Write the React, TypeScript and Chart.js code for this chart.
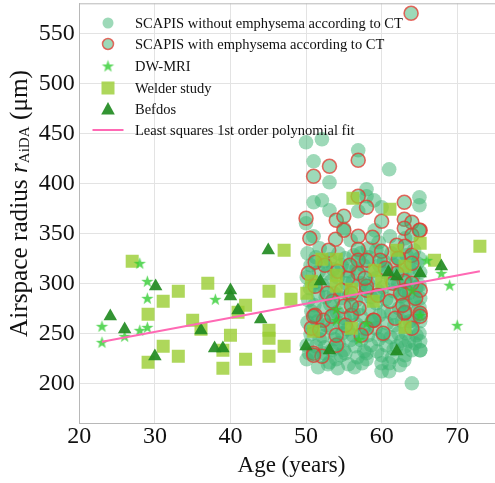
import React, { useEffect, useRef } from 'react';
import { Chart, registerables } from 'chart.js';

Chart.register(...registerables);

// ---- Data (age in years, airspace radius in µm) ----
const xTicks = [20, 30, 40, 50, 60, 70];
const yTicks = [200, 250, 300, 350, 400, 450, 500, 550];

const scapisNoEmph: [number, number][] = [
  [50.0, 441], [52.1, 444], [56.9, 433], [51.0, 422], [61.0, 414], [53.1, 401], [58.0, 394], [58.0, 387],
  [51.0, 381], [52.1, 383], [59.0, 383], [65.0, 386], [65.0, 378], [60.0, 376], [53.1, 373], [56.9, 372],
  [50.0, 360], [51.0, 347], [59.1, 353], [61.1, 347], [55.0, 355], [55.9, 343], [51.8, 335], [58.2, 335],
  [59.6, 341], [63.1, 345], [64.0, 200], [65.1, 233], [64.0, 233], [63.0, 223], [60.0, 228], [60.0, 220],
  [60.0, 212], [61.0, 220], [61.0, 212], [58.0, 224], [58.0, 230], [54.0, 224], [50.1, 224], [52.3, 230],
  [55.0, 233], [63.1, 237], [65.1, 233], [62.0, 237], [63.1, 228],
  [50.2, 330], [50.6, 318], [50.1, 306], [50.5, 295], [50.3, 283], [50.7, 272], [50.2, 261], [50.6, 249], [50.1, 238], [50.4, 230],
  [51.3, 326], [51.7, 312], [51.2, 301], [51.6, 289], [51.1, 278], [51.5, 262], [51.8, 244], [51.3, 237], [51.6, 216],
  [52.4, 322], [52.8, 310], [52.2, 298], [52.6, 286], [52.3, 274], [52.7, 258], [52.2, 247], [52.5, 236], [52.9, 219],
  [53.2, 324], [53.6, 314], [53.3, 302], [53.7, 290], [53.2, 279], [53.6, 268], [53.3, 255], [53.8, 244], [53.4, 233], [53.1, 221],
  [54.3, 330], [54.7, 318], [54.2, 306], [54.6, 285], [54.1, 271], [54.5, 260], [54.8, 250], [54.3, 240], [54.6, 228], [54.2, 215],
  [55.2, 325], [55.6, 312], [55.3, 300], [55.7, 288], [55.1, 265], [55.5, 254], [55.8, 243], [55.2, 230], [55.6, 219],
  [56.3, 328], [56.7, 315], [56.2, 302], [56.6, 283], [56.3, 270], [56.7, 259], [56.2, 248], [56.5, 237], [56.8, 226], [56.4, 216],
  [57.2, 330], [57.6, 318], [57.3, 300], [57.7, 287], [57.2, 268], [57.6, 255], [57.3, 243], [57.7, 232], [57.4, 220],
  [58.3, 326], [58.7, 312], [58.2, 300], [58.6, 286], [58.3, 274], [58.7, 262], [58.2, 248], [58.6, 238],
  [59.3, 333], [59.7, 318], [59.2, 305], [59.6, 292], [59.3, 280], [59.7, 268], [59.2, 255], [59.6, 244], [59.4, 232],
  [60.3, 322], [60.7, 310], [60.2, 296], [60.6, 284], [60.3, 272], [60.7, 260], [60.2, 248], [60.6, 238],
  [61.3, 330], [61.7, 318], [61.2, 305], [61.6, 292], [61.3, 270], [61.7, 258], [61.2, 246], [61.6, 234], [61.4, 226],
  [62.3, 325], [62.7, 313], [62.2, 299], [62.6, 287], [62.3, 275], [62.7, 262], [62.2, 250], [62.6, 242], [62.4, 218],
  [63.3, 328], [63.7, 315], [63.2, 303], [63.6, 290], [63.3, 280], [63.7, 262], [63.2, 250], [63.6, 242],
  [64.3, 333], [64.7, 320], [64.2, 308], [64.6, 296], [64.3, 284], [64.7, 272], [64.2, 262], [64.6, 248], [64.4, 240],
  [65.0, 325], [65.1, 311], [65.0, 298], [65.1, 285], [65.0, 276], [65.1, 262], [65.0, 250], [65.1, 242],
];

const scapisEmph: [number, number][] = [
  [63.9, 570], [56.9, 423], [53.1, 417], [51.0, 407], [56.9, 387], [58.0, 376], [50.0, 365], [54.0, 363],
  [55.0, 367], [55.0, 353], [60.0, 362], [63.0, 381], [63.0, 364], [64.0, 361], [63.0, 355], [65.1, 353],
  [64.0, 348], [53.9, 344], [56.9, 347], [58.8, 346], [62.0, 338], [63.1, 337], [53.0, 333], [60.0, 332],
  [56.9, 334], [51.2, 321], [56.9, 323], [56.9, 310], [59.8, 323], [51.2, 297], [54.7, 293], [56.0, 290],
  [58.0, 293], [51.2, 268], [52.3, 263], [53.4, 267], [55.0, 277], [56.0, 268], [57.0, 275], [58.9, 263],
  [50.7, 255], [51.8, 253], [51.0, 230], [52.1, 227], [54.0, 238], [58.0, 255], [65.0, 353], [65.1, 270],
  [63.0, 270], [64.0, 255], [58.0, 323], [64.0, 328], [64.0, 320], [63.0, 302], [65.1, 293], [61.1, 282],
  [63.1, 271], [65.1, 267], [59.0, 263], [51.0, 267], [54.0, 248], [51.0, 228], [56.0, 278], [58.0, 297],
  [62.0, 310], [63.1, 293], [64.0, 300], [52.5, 318], [54.2, 312], [55.5, 305], [57.8, 305], [60.5, 315],
  [61.5, 300], [62.5, 290], [53.5, 282], [55.2, 258], [57.3, 248], [60.2, 250], [61.8, 265], [62.8, 278],
  [59.5, 288], [50.3, 310], [50.5, 345], [52.8, 290], [55.8, 318], [64.5, 285], [62.2, 325],
];

const dwMri: [number, number][] = [
  [28.0, 320], [29.0, 302], [29.0, 285], [23.0, 257], [26.0, 247], [28.0, 253], [29.0, 256], [23.0, 241],
  [38.0, 284], [66.0, 323], [69.0, 298], [70.0, 258], [54.0, 274], [54.0, 263], [58.0, 260], [57.0, 244],
  [65.1, 268], [64.0, 293], [67.9, 310],
];

const welder: [number, number][] = [
  [27.0, 322], [33.1, 292], [31.1, 282], [37.0, 300], [29.1, 269], [31.1, 237], [33.1, 227], [29.1, 221],
  [35.0, 263], [36.1, 254], [40.0, 248], [39.0, 233], [39.0, 215], [42.0, 278], [41.0, 271], [42.0, 224],
  [45.1, 292], [45.1, 253], [45.1, 245], [45.1, 227], [47.1, 237], [47.1, 333], [48.0, 284],
  [56.2, 385], [61.1, 374], [62.0, 333], [65.1, 340], [73.0, 337], [67.0, 323], [52.1, 324], [54.0, 324],
  [54.0, 308], [54.0, 297], [50.7, 302], [50.1, 290], [56.0, 294], [59.1, 313], [63.1, 317], [58.9, 282],
  [56.0, 255], [51.0, 252], [63.1, 256], [60.0, 302],
];

const befdos: [number, number][] = [
  [45.0, 333], [30.1, 297], [24.1, 267], [26.0, 254], [30.0, 227], [36.1, 253], [40.0, 293], [40.0, 287],
  [41.0, 273], [37.9, 235], [39.0, 235], [44.0, 264], [51.9, 302], [60.9, 311], [62.0, 307], [65.1, 310],
  [67.9, 317], [50.0, 237], [53.1, 233], [62.0, 232],
];

const fitAges = [23, 73];
const fitRadius = [241.5, 312];

const legendLabels = [
  'SCAPIS without emphysema according to CT',
  'SCAPIS with emphysema according to CT',
  'DW-MRI',
  'Welder study',
  'Befdos',
  'Least squares 1st order polynomial fit',
];

// ---- Styles ----
const FONT = '"Liberation Serif", "Times New Roman", serif';
const C_NOEMPH = 'rgba(60,179,113,0.5)';
const C_EMPH_EDGE = 'rgba(228,58,48,0.75)';
const C_STAR = 'rgba(50,205,50,0.8)';
const C_SQUARE = 'rgba(154,205,50,0.8)';
const C_TRI = 'rgba(34,139,34,0.92)';
const C_LINE = '#ff69b4';

function makeStar(r: number, color: string): HTMLCanvasElement {
  const c = document.createElement('canvas');
  const s = Math.ceil(r * 2 + 2);
  c.width = s;
  c.height = s;
  const ctx = c.getContext('2d')!;
  const cx = s / 2;
  const cy = s / 2 + r * 0.08;
  ctx.beginPath();
  for (let i = 0; i < 10; i++) {
    const a = -Math.PI / 2 + (i * Math.PI) / 5;
    const rad = i % 2 === 0 ? r : r * 0.4;
    const px = cx + Math.cos(a) * rad;
    const py = cy + Math.sin(a) * rad;
    if (i === 0) ctx.moveTo(px, py);
    else ctx.lineTo(px, py);
  }
  ctx.closePath();
  ctx.fillStyle = color;
  ctx.fill();
  return c;
}

const toXY = (arr: [number, number][]) => arr.map(([x, y]) => ({ x, y }));

const zeroPad = (s: any) => {
  s.paddingLeft = 0;
  s.paddingRight = 0;
  s.paddingTop = 0;
  s.paddingBottom = 0;
};

export default function App() {
  const ref = useRef<HTMLCanvasElement | null>(null);

  useEffect(() => {
    document.body.style.margin = '0';
    const canvas = ref.current!;
    const star = makeStar(6.5, C_STAR);

    const overlay = {
      id: 'overlay',
      afterDraw(chart: any) {
        const ctx = chart.ctx as CanvasRenderingContext2D;
        const { left, right, top } = chart.chartArea;
        ctx.save();
        // top spine
        ctx.strokeStyle = '#b8b8b8';
        ctx.lineWidth = 1;
        ctx.beginPath();
        ctx.moveTo(left, top + 0.5);
        ctx.lineTo(right, top + 0.5);
        ctx.stroke();

        // legend
        const mx = 108;
        const tx = 135;
        const rows = [23, 44, 66, 88, 109.5, 130];
        ctx.font = `14.5px ${FONT}`;
        ctx.fillStyle = '#111';
        ctx.textBaseline = 'middle';
        ctx.textAlign = 'left';
        legendLabels.forEach((t, i) => ctx.fillText(t, tx, rows[i] + 1));
        // markers
        ctx.beginPath();
        ctx.arc(mx, rows[0], 5.5, 0, Math.PI * 2);
        ctx.fillStyle = C_NOEMPH;
        ctx.fill();
        ctx.beginPath();
        ctx.arc(mx, rows[1], 5.5, 0, Math.PI * 2);
        ctx.fill();
        ctx.lineWidth = 1.5;
        ctx.strokeStyle = C_EMPH_EDGE;
        ctx.stroke();
        ctx.drawImage(star, mx - star.width / 2, rows[2] - star.height / 2);
        ctx.fillStyle = C_SQUARE;
        ctx.fillRect(mx - 6.5, rows[3] - 6.5, 13, 13);
        ctx.fillStyle = C_TRI;
        ctx.beginPath();
        ctx.moveTo(mx, rows[4] - 7.5);
        ctx.lineTo(mx + 6.8, rows[4] + 5);
        ctx.lineTo(mx - 6.8, rows[4] + 5);
        ctx.closePath();
        ctx.fill();
        ctx.strokeStyle = C_LINE;
        ctx.lineWidth = 2;
        ctx.beginPath();
        ctx.moveTo(92.5, rows[5]);
        ctx.lineTo(123.5, rows[5]);
        ctx.stroke();

        // x title
        ctx.fillStyle = '#111';
        ctx.font = `23px ${FONT}`;
        ctx.textAlign = 'center';
        ctx.textBaseline = 'middle';
        ctx.fillText('Age (years)', 291.5, 466);

        // y title with subscript, sized to the reference length
        const targetLen = 267;
        const measure = (size: number) => {
          const ps: [string, string, number][] = [
            ['Airspace radius ', `${size}px ${FONT}`, 0],
            ['r', `italic ${size}px ${FONT}`, 0],
            ['AiDA', `${size * 0.6}px ${FONT}`, size * 0.06],
            [' (μm)', `${size}px ${FONT}`, 0],
          ];
          let tot = 0;
          const ws = ps.map(([t, f]) => {
            ctx.font = f;
            const w = ctx.measureText(t).width;
            tot += w;
            return w;
          });
          return { ps, ws, tot };
        };
        const base = measure(22);
        const size = (22 * targetLen) / base.tot;
        const { ps, ws, tot } = measure(size);
        ctx.translate(27, 203.5);
        ctx.rotate(-Math.PI / 2);
        ctx.textAlign = 'left';
        ctx.textBaseline = 'alphabetic';
        let cx = -tot / 2;
        ps.forEach(([t, f, dy], i) => {
          ctx.font = f;
          ctx.fillText(t, cx, dy);
          cx += ws[i];
        });
        ctx.restore();
      },
    };

    const chart = new Chart(canvas, {
      type: 'scatter',
      data: {
        datasets: [
          {
            type: 'line',
            label: legendLabels[5],
            data: fitAges.map((x, i) => ({ x, y: fitRadius[i] })),
            borderColor: C_LINE,
            borderWidth: 2,
            pointRadius: 0,
            fill: false,
          } as any,
          {
            label: legendLabels[4],
            data: toXY(befdos),
            pointStyle: 'triangle',
            pointRadius: 7.8,
            backgroundColor: C_TRI,
            borderWidth: 0,
          },
          {
            label: legendLabels[2],
            data: toXY(dwMri),
            pointStyle: star as any,
            pointRadius: 6.5,
          },
          {
            label: legendLabels[3],
            data: toXY(welder),
            pointStyle: 'rect',
            pointRadius: 9.2,
            backgroundColor: C_SQUARE,
            borderWidth: 0,
          },
          {
            label: legendLabels[1],
            data: toXY(scapisEmph),
            pointStyle: 'circle',
            pointRadius: 7,
            backgroundColor: C_NOEMPH,
            borderColor: C_EMPH_EDGE,
            borderWidth: 1.6,
          },
          {
            label: legendLabels[0],
            data: toXY(scapisNoEmph),
            pointStyle: 'circle',
            pointRadius: 7.3,
            backgroundColor: C_NOEMPH,
            borderWidth: 0,
          },
        ],
      },
      options: {
        animation: false,
        responsive: false,
        maintainAspectRatio: false,
        events: [],
        layout: { autoPadding: false, padding: { top: 3.3, right: 0, left: 0, bottom: 0 } },
        plugins: {
          legend: { display: false },
          tooltip: { enabled: false },
          title: { display: false },
        },
        scales: {
          x: {
            type: 'linear',
            min: 20,
            max: 75,
            afterBuildTicks: (s: any) => {
              s.ticks = xTicks.map((v) => ({ value: v }));
            },
            afterFit: (s: any) => {
              s.height = 59.7;
              zeroPad(s);
            },
            grid: { color: '#e3e3e3', lineWidth: 1, drawTicks: false },
            border: { color: '#b8b8b8', width: 1 },
            ticks: {
              padding: 1,
              color: '#111',
              font: { family: FONT, size: 24, lineHeight: 1.0 },
              maxRotation: 0,
            },
          },
          y: {
            type: 'linear',
            min: 160,
            max: 580,
            afterBuildTicks: (s: any) => {
              s.ticks = yTicks.map((v) => ({ value: v }));
            },
            afterFit: (s: any) => {
              s.width = 79.3;
              zeroPad(s);
            },
            grid: { color: '#e3e3e3', lineWidth: 1, drawTicks: false },
            border: { color: '#b8b8b8', width: 1 },
            ticks: {
              padding: 4.5,
              color: '#111',
              font: { family: FONT, size: 24, lineHeight: 1.0 },
            },
          },
        },
      },
      plugins: [overlay],
    });

    return () => chart.destroy();
  }, []);

  return (
    <div style={{ width: 495, height: 483, position: 'relative' }}>
      <canvas ref={ref} width={495} height={483} style={{ display: 'block', width: 495, height: 483 }} />
    </div>
  );
}
